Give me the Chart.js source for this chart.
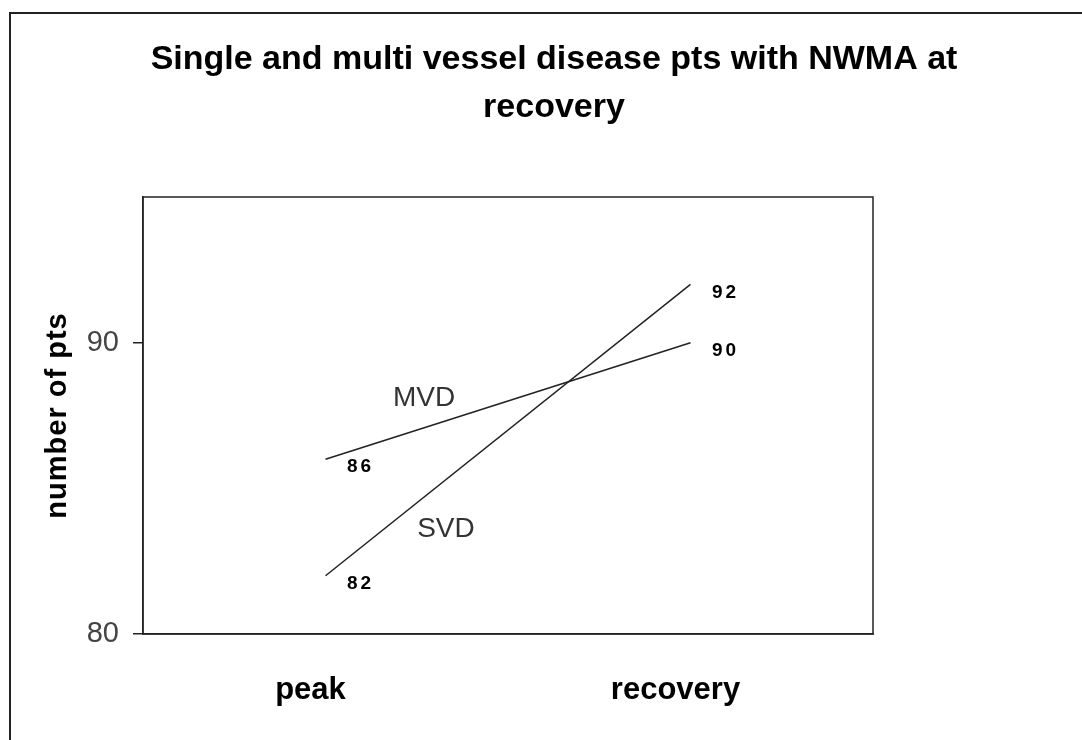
<!DOCTYPE html>
<html>
<head>
<meta charset="utf-8">
<script src="https://cdn.jsdelivr.net/npm/chart.js@4.4.0/dist/chart.umd.min.js"></script>
<style>
  html, body { margin: 0; padding: 0; background: #fff; }
  canvas { display: block; }
</style>
</head>
<body>
<canvas id="myChart" width="1082" height="740"></canvas>
<script>
// 資料
const categories = ['peak', 'recovery'];
const svdValues = [82, 92];
const mvdValues = [86, 90];
const yMin = 80;
const yMax = 95;
const yStep = 10;
const chartTitle = ['Single and multi vessel disease pts with NWMA at', 'recovery'];
const yTitle = 'number of pts';

// 線名標籤的位置 (category index, value)
const nameSpots = { SVD: [0.33, 83.6], MVD: [0.27, 88.1] };

const FONT = '"Liberation Sans", Arial, sans-serif';

// 外框、標題、數值標籤
const decorPlugin = {
    id: 'decor',
    beforeDraw(chart) {
        const ctx = chart.ctx;
        ctx.save();
        ctx.strokeStyle = '#222';
        ctx.lineWidth = 2;
        ctx.beginPath();
        ctx.moveTo(10, chart.height);
        ctx.lineTo(10, 13);
        ctx.lineTo(chart.width, 13);
        ctx.stroke();
        ctx.restore();
    },
    afterDraw(chart) {
        const ctx = chart.ctx;
        const a = chart.chartArea;
        const x = chart.scales.x;
        const y = chart.scales.y;
        ctx.save();

        // 圖框上、右邊
        ctx.strokeStyle = '#222';
        ctx.lineWidth = 1.5;
        ctx.strokeRect(a.left, a.top, a.right - a.left, a.bottom - a.top);

        // 標題
        ctx.fillStyle = '#000';
        ctx.textAlign = 'center';
        ctx.textBaseline = 'middle';
        ctx.font = 'bold 34px ' + FONT;
        ctx.fillText(chartTitle[0], 554, 60);
        ctx.fillText(chartTitle[1], 554, 108);

        // Y 軸標題
        ctx.save();
        ctx.translate(58, (a.top + a.bottom) / 2);
        ctx.rotate(-Math.PI / 2);
        ctx.font = 'bold 29px ' + FONT;
        ctx.letterSpacing = '1px';
        ctx.fillText(yTitle, 0, 0);
        ctx.restore();

        // 數值標籤
        ctx.font = 'bold 19px ' + FONT;
        ctx.letterSpacing = '3px';
        chart.data.datasets.forEach((ds, i) => {
            chart.getDatasetMeta(i).data.forEach((pt, j) => {
                ctx.fillText(ds.data[j], pt.x + 35, pt.y + 8);
            });
        });
        ctx.letterSpacing = '0px';

        // 線名
        ctx.font = '28px ' + FONT;
        ctx.fillStyle = '#333';
        chart.data.datasets.forEach(ds => {
            const spot = nameSpots[ds.label];
            ctx.fillText(ds.label, x.getPixelForValue(spot[0]), y.getPixelForValue(spot[1]));
        });

        ctx.restore();
    }
};

const ctx = document.getElementById('myChart');

new Chart(ctx, {
    type: 'line',
    data: {
        labels: categories,
        datasets: [
            {
                label: 'SVD',
                data: svdValues,
                borderColor: '#222',
                borderWidth: 1.5,
                pointRadius: 0,
                tension: 0
            },
            {
                label: 'MVD',
                data: mvdValues,
                borderColor: '#222',
                borderWidth: 1.5,
                pointRadius: 0,
                tension: 0
            }
        ]
    },
    options: {
        responsive: false,
        animation: false,
        layout: {
            padding: { top: 197, right: 209, left: 0, bottom: 0 }
        },
        plugins: {
            legend: { display: false },
            title: { display: false },
            tooltip: { enabled: false }
        },
        scales: {
            x: {
                offset: true,
                grid: { display: false },
                border: { color: '#222', width: 1.5 },
                ticks: {
                    color: '#000',
                    font: { family: FONT, size: 31, weight: 'bold' },
                    padding: 30,
                    labelOffset: -15
                },
                afterFit(scale) { scale.height = 740 - 634; }
            },
            y: {
                min: yMin,
                max: yMax,
                grid: { drawOnChartArea: false, tickLength: 10, color: '#222', lineWidth: 1.5 },
                border: { color: '#222', width: 1.5 },
                ticks: {
                    stepSize: yStep,
                    includeBounds: false,
                    color: '#444',
                    font: { family: FONT, size: 29 },
                    padding: 14
                },
                afterFit(scale) { scale.width = 143; }
            }
        }
    },
    plugins: [decorPlugin]
});
</script>
</body>
</html>
